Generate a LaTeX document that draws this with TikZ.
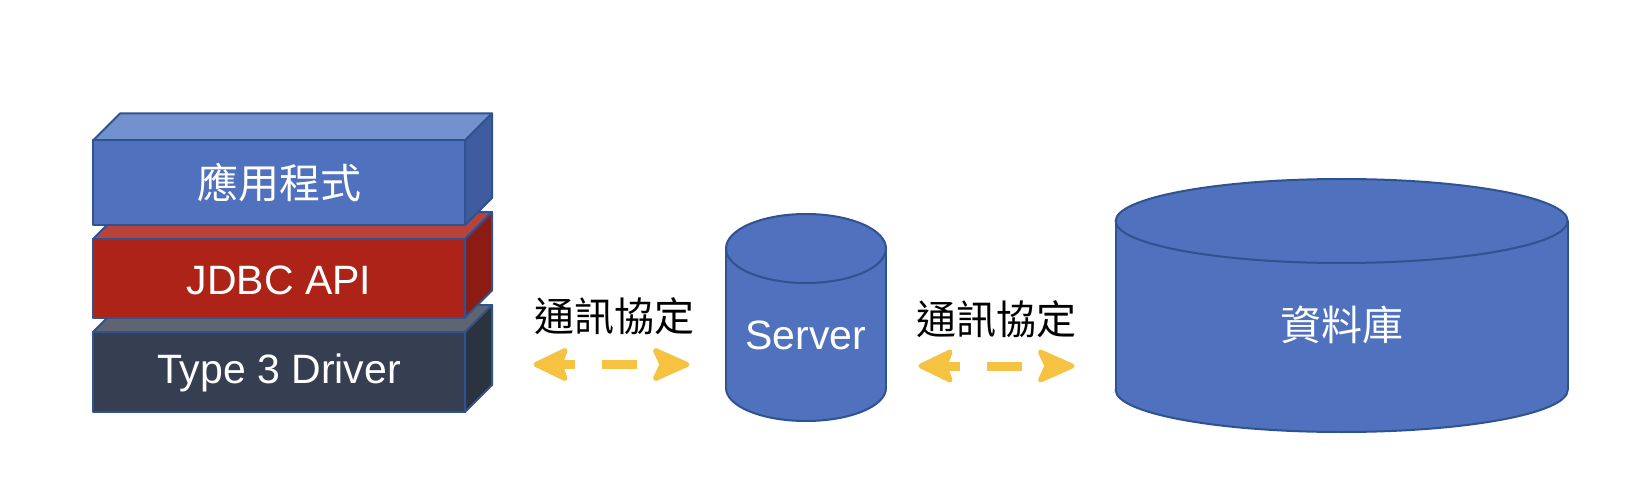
\documentclass[tikz,border=0pt]{standalone}
\usepackage{fontspec}
\setmainfont{Liberation Sans}
\newfontfamily\cjk{Noto Sans CJK TC}
\definecolor{bluefront}{HTML}{4F71BE}
\definecolor{bluetop}{HTML}{7391CD}
\definecolor{blueside}{HTML}{3F5C9E}
\definecolor{redfront}{HTML}{AE2318}
\definecolor{redtop}{HTML}{B9423B}
\definecolor{redside}{HTML}{8C1B13}
\definecolor{darkfront}{HTML}{363F51}
\definecolor{darktop}{HTML}{5F6570}
\definecolor{darkside}{HTML}{2C3340}
\definecolor{edgeblue}{HTML}{2F5290}
\definecolor{arrowyellow}{HTML}{F5C242}
\tikzset{
  face/.style={draw=edgeblue, line width=2pt, line join=round},
  lbl/.style={text=white, inner sep=0pt, font=\fontsize{41}{46}\selectfont},
  cjklbl/.style={text=white, inner sep=0pt, font=\cjk\fontsize{41}{46}\selectfont},
  protolbl/.style={text=black, inner sep=0pt, font=\cjk\fontsize{40}{46}\selectfont},
  cyl/.style={fill=bluefront, draw=edgeblue, line width=2pt},
  arrowpart/.style={fill=arrowyellow, draw=arrowyellow, line width=5pt, line join=round},
  arrowline/.style={draw=arrowyellow, line width=9pt, line cap=butt},
  dasharrow/.pic={
    \coordinate (-l) at (0,0);
    \coordinate (-r) at (157,0);
    \filldraw[arrowpart] (3,0) -- (32,-14) -- (27,0) -- (32,14) -- cycle;
    \draw[arrowline] (23,0) -- (42,0);
    \draw[arrowline] (69,0) -- (104,0);
    \filldraw[arrowpart] (154,0) -- (122.5,-14) -- (129,0) -- (122.5,14) -- cycle;
  }
}
\begin{document}
\begin{tikzpicture}[x=1pt,y=-1pt]
\useasboundingbox (0,0) rectangle (1650,500);
\fill[white] (0,0) rectangle (1650,500);

% ---- dark box (Type 3 Driver)
\filldraw[face, fill=darktop] (93,332) -- (120,305) -- (492,305) -- (465,332) -- cycle;
\filldraw[face, fill=darkside] (465,332) -- (492,305) -- (492,385) -- (465,412) -- cycle;
\filldraw[face, fill=darkfront] (93,332) rectangle (465,412);
\node[lbl] (drv) at (279,372.5) {Type 3 Driver};

% ---- red box (JDBC API)
\filldraw[face, fill=redtop] (93,239) -- (120,212) -- (492,212) -- (465,239) -- cycle;
\filldraw[face, fill=redside] (465,239) -- (492,212) -- (492,290.5) -- (465,317.5) -- cycle;
\filldraw[face, fill=redfront] (93,239) rectangle (465,317.5);
\node[lbl] (api) at (279,280.5) {JDBC API};

% ---- blue box (application)
\filldraw[face, fill=bluetop] (93,140.5) -- (120,113.5) -- (492,113.5) -- (465,140.5) -- cycle;
\filldraw[face, fill=blueside] (465,140.5) -- (492,113.5) -- (492,198) -- (465,225) -- cycle;
\filldraw[face, fill=bluefront] (93,140.5) rectangle (465,225);
\node[cjklbl] (app) at (279,182.5) {應用程式};

% ---- server cylinder
\filldraw[cyl] (806,388) ellipse [x radius=80, y radius=33];
\fill[bluefront] (726,248.5) rectangle (886,388);
\draw[edgeblue, line width=2pt] (726,248.5) -- (726,388) (886,248.5) -- (886,388);
\filldraw[cyl] (806,248.5) ellipse [x radius=80, y radius=34.5];
\node[lbl] (srv) at (806,335) {Server};

% ---- database cylinder
\filldraw[cyl] (1341.7,390) ellipse [x radius=226, y radius=42];
\fill[bluefront] (1115.7,221) rectangle (1567.7,390);
\draw[edgeblue, line width=2pt] (1115.7,221) -- (1115.7,390) (1567.7,221) -- (1567.7,390);
\filldraw[cyl] (1341.7,221) ellipse [x radius=226, y radius=42];
\node[cjklbl] (db) at (1341.7,325) {資料庫};

% ---- protocol labels and arrows
\node[protolbl] (p1) at (614,316.5) {通訊協定};
\node[protolbl] (p2) at (996,319) {通訊協定};
\pic (a1) at (533,364.5) {dasharrow};
\pic (a2) at (918,366) {dasharrow};
\end{tikzpicture}
\end{document}
